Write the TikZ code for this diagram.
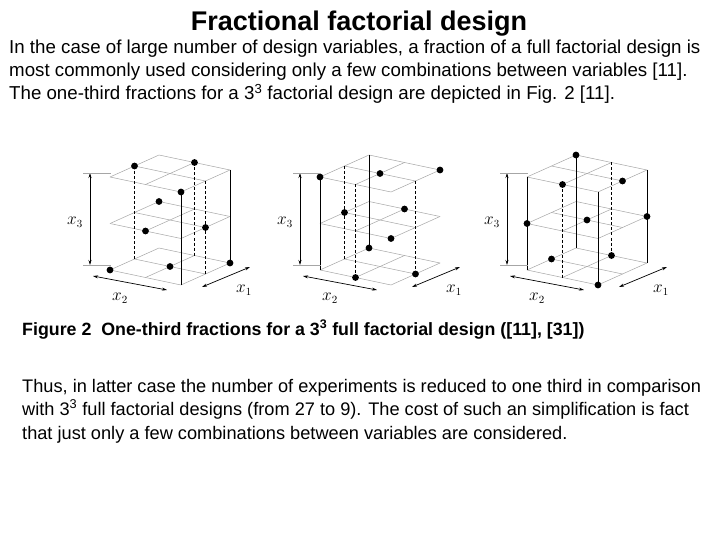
\documentclass[tikz,border=0pt]{standalone}
\usepackage{fontspec}
\setmainfont{Liberation Sans}
\usetikzlibrary{arrows.meta}
\newcommand\fcube[4]{%
\begin{scope}[shift={(#1,285)}]
 \foreach \k in {0,1,2}{\foreach \t in {0,1,2}{
   \draw[gridl] (-\t*35.5,-\t*7.5-\k*46.5) -- ++(49,-22);
   \draw[gridl] (\t*24.5,-\t*11-\k*46.5) -- ++(-71,-15);}}
 \foreach \i/\j in {#3}{\draw[solidcol] (\i*24.5-\j*35.5,-\i*11-\j*7.5-93) -- ++(0,93);}
 \foreach \i/\j in {#4}{\draw[dashcol] (\i*24.5-\j*35.5,-\i*11-\j*7.5-93) -- ++(0,93);}
 \foreach \i/\j/\k in {#2}{\fill (\i*24.5-\j*35.5,-\i*11-\j*7.5-\k*46.5) circle (3.4);}
 \draw[axarr] (-91,-112) -- (-91,-20);
 \draw[gridl] (-98,-112) -- (-70,-112) (-98,-20) -- (-70,-20);
 \draw[axarr] (-88,-9) -- (-14,5);
 \draw[axarr] (21,2) -- (69,-18);
 \node[font=\fontsize{16}{16}\selectfont] at (-106,-63) {$x_3$};
 \node[font=\fontsize{16}{16}\selectfont] at (-61,13) {$x_2$};
 \node[font=\fontsize{16}{16}\selectfont] at (63,5) {$x_1$};
\end{scope}}
\begin{document}
\begin{tikzpicture}[x=1pt,y=-1pt,
 gridl/.style={gray!70,line width=0.5pt},
 solidcol/.style={black,line width=0.9pt},
 dashcol/.style={black,line width=0.9pt,dash pattern=on 3pt off 2pt},
 axarr/.style={black,line width=0.7pt,{Stealth[length=5pt,width=3pt]}-{Stealth[length=5pt,width=3pt]}},
 txt/.style={anchor=base west,inner sep=0pt,font=\fontsize{18.2}{20}\selectfont}]
\fill[white] (0,0) rectangle (720,540);
\useasboundingbox (0,0) rectangle (720,540);
\node[anchor=base,inner sep=0pt,font=\fontsize{27}{30}\selectfont\bfseries] (title) at (359,31) {Fractional factorial design};
\node[txt,font=\fontsize{18.7}{20}\selectfont] (p1) at (9,54) {In the case of large number of design variables, a fraction of a full factorial design is};
\node[txt,font=\fontsize{18.7}{20}\selectfont] (p2) at (9,77) {most commonly used considering only a few combinations between variables [11].};
\node[txt,font=\fontsize{18.7}{20}\selectfont] (p3) at (9,100) {The one-third fractions for a 3\textsuperscript{3} factorial design are depicted in Fig. 2 [11].};
\fcube{181}{0/0/2,1/2/2,2/1/2,2/2/1,0/1/1,1/0/1,0/2/0,1/1/0,2/0/0}{0/0,2/0}{1/2,2/1,1/0}
\fcube{391}{0/2/2,1/1/2,2/0/2,1/2/1,2/1/1,0/0/1,2/2/0,0/1/0,1/0/0}{2/2,0/2}{1/2,0/1,1/0}
\fcube{598}{2/2/2,0/1/2,1/0/2,0/2/1,1/1/1,2/0/1,1/2/0,2/1/0,0/0/0}{0/0,0/2,2/0,2/2}{0/1,2/1}
\node[txt,font=\fontsize{17.8}{20}\selectfont\bfseries] (cap) at (22,335) {Figure 2\ \ One-third fractions for a 3\textsuperscript{3} full factorial design ([11], [31])};
\node[txt] (q1) at (22,392) {Thus, in latter case the number of experiments is reduced to one third in comparison};
\node[txt] (q2) at (22,415) {with 3\textsuperscript{3} full factorial designs (from 27 to 9). The cost of such an simplification is fact};
\node[txt] (q3) at (22,439) {that just only a few combinations between variables are considered.};
\end{tikzpicture}
\end{document}
